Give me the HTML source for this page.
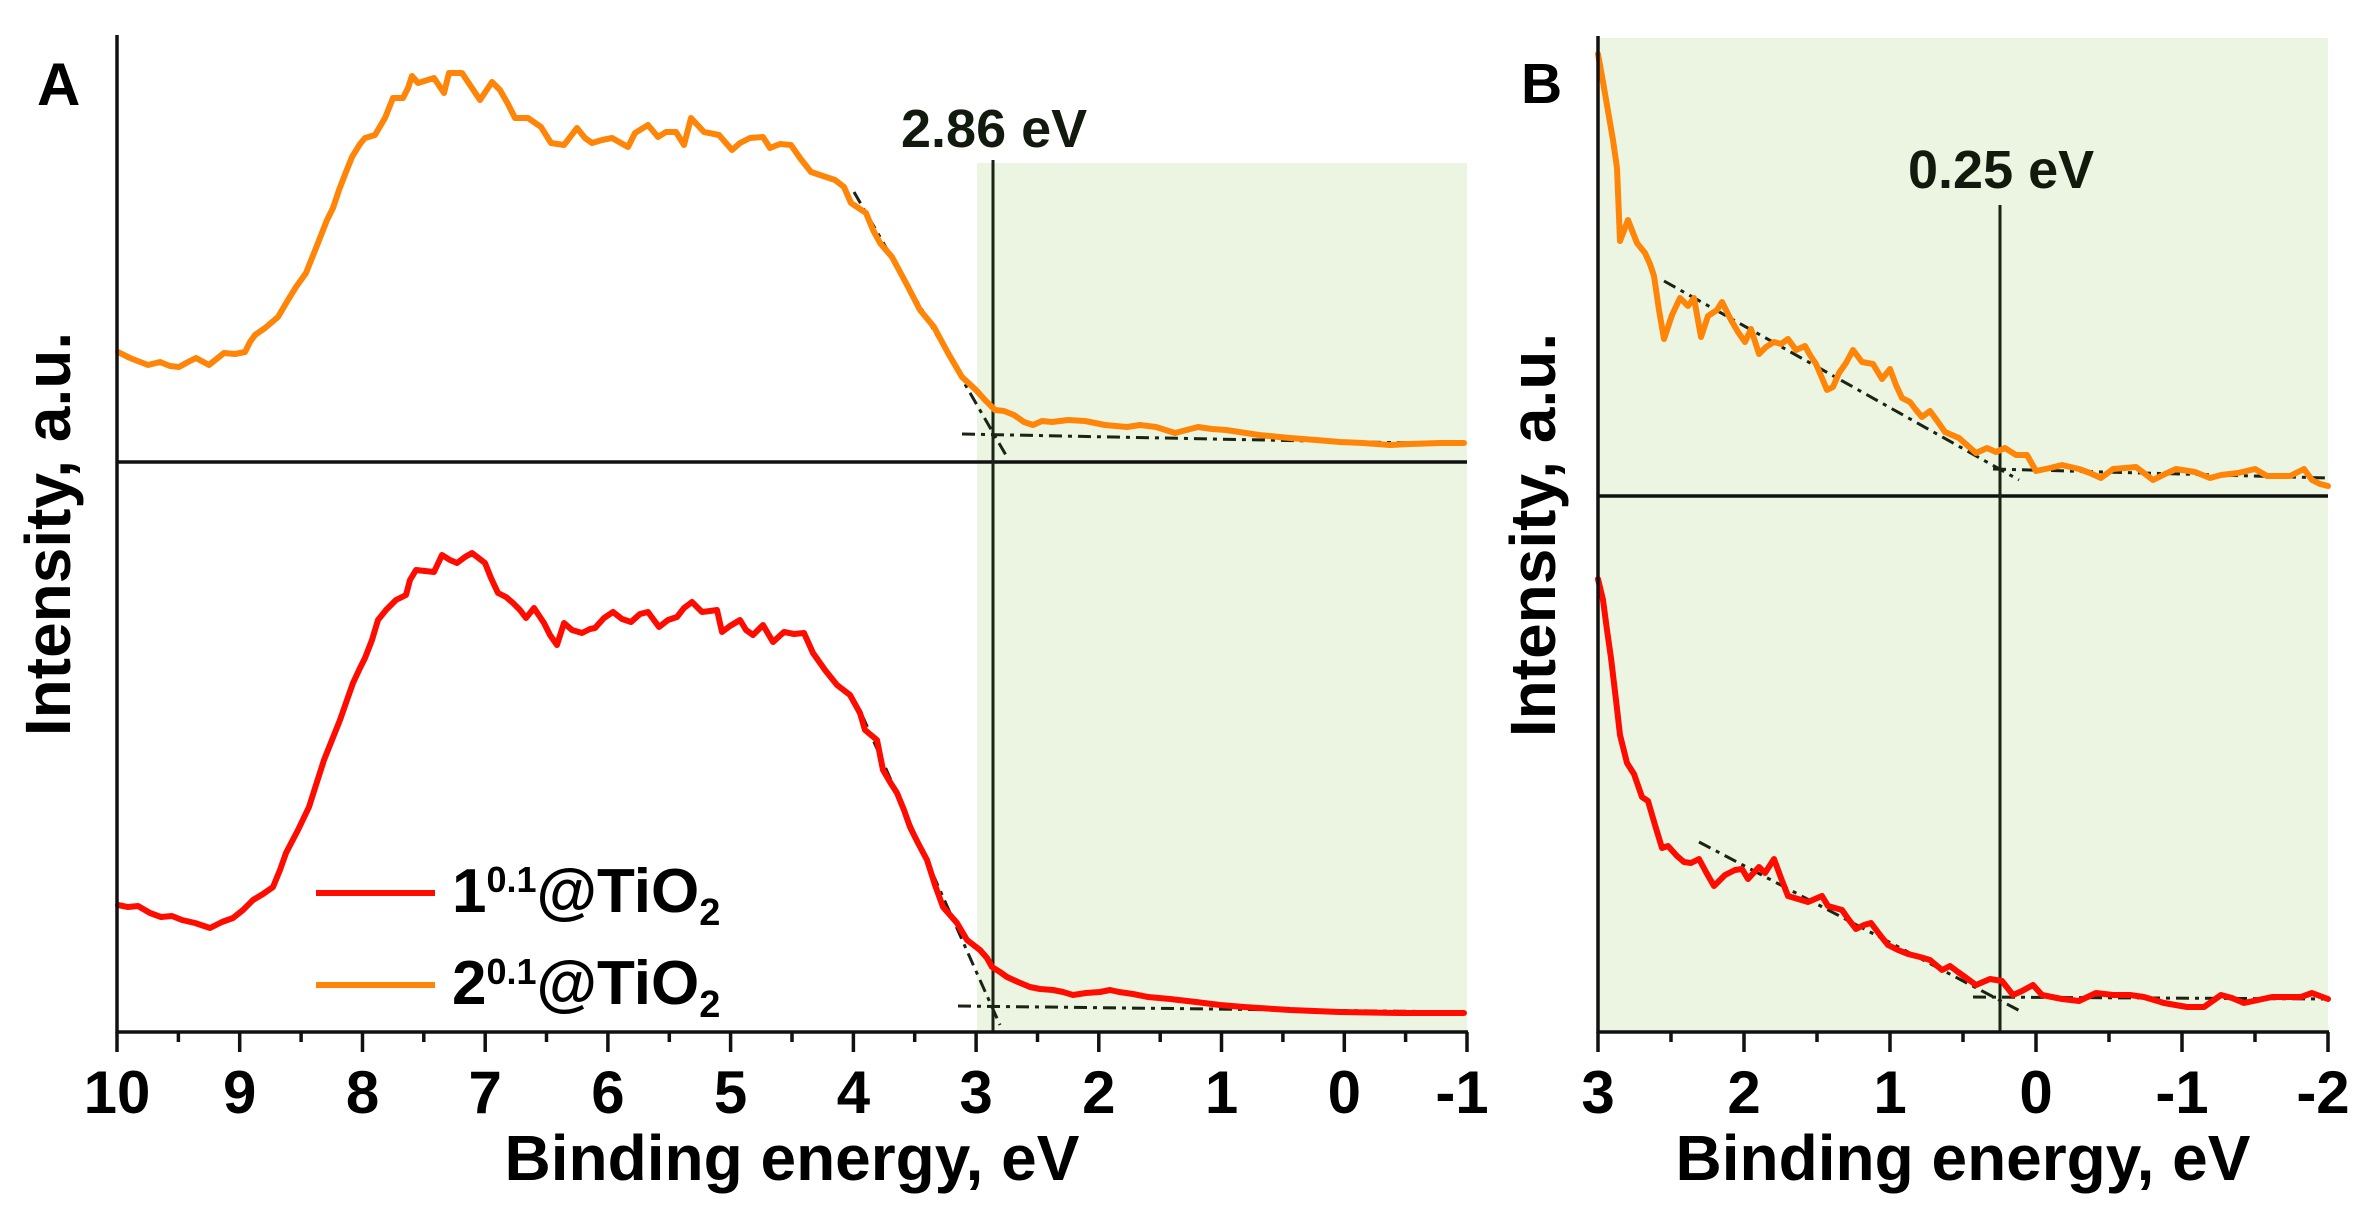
<!DOCTYPE html>
<html><head><meta charset="utf-8"><style>
html,body{margin:0;padding:0;background:#fff;}
svg{display:block;}
text{font-family:"Liberation Sans",Arial,sans-serif;}
</style></head><body>
<svg width="2374" height="1207" viewBox="0 0 2374 1207" xmlns="http://www.w3.org/2000/svg">
<rect x="0" y="0" width="2374" height="1207" fill="#fff"/>
<!-- shading -->
<rect x="977" y="163" width="490" height="869" fill="#ebf5e1"/>
<rect x="1598" y="38" width="730" height="994" fill="#ebf5e1"/>

<!-- Panel A divider and vertical -->
<line x1="117" y1="462" x2="1467" y2="462" stroke="#111" stroke-width="3.5"/>
<line x1="993" y1="160" x2="993" y2="1032" stroke="#1a2414" stroke-width="3"/>
<!-- Panel B divider and vertical -->
<line x1="1598" y1="496" x2="2328" y2="496" stroke="#111" stroke-width="3.5"/>
<line x1="2000" y1="205" x2="2000" y2="1032" stroke="#1a2414" stroke-width="3"/>

<!-- tangents -->
<g stroke="#1a2414" stroke-width="3" stroke-dasharray="13,6,4,6" fill="none">
<line x1="854" y1="192" x2="1007" y2="457"/>
<line x1="962" y1="434" x2="1464" y2="444"/>
<line x1="862" y1="715" x2="1000" y2="1025"/>
<line x1="958" y1="1006" x2="1464" y2="1012"/>
<line x1="1664" y1="281" x2="2019" y2="480"/>
<line x1="1993" y1="469" x2="2328" y2="478"/>
<line x1="1699" y1="842" x2="2022" y2="1012"/>
<line x1="1973" y1="997" x2="2328" y2="999"/>
</g>

<!-- curves -->
<g fill="none" stroke-width="6" stroke-linejoin="round" stroke-linecap="round">
<polyline stroke="#ff8508" points="118,352 130,358 148,365 160,362 170,366 179,367 188,362 196,358 209,365 224,353 235,354 245,352 250,342 255,335 265,328 278,317 288,300 296,287 306,273 316,248 327,220 333,208 339,190 346,172 352,157 360,144 365,138 375,135 385,118 393,98 403,98 408,88 412,76 418,83 434,78 444,93 449,73 462,73 470,85 480,100 492,82 500,90 508,104 515,118 528,118 541,127 551,143 564,145 577,128 585,138 592,143 602,140 612,138 628,147 635,133 648,125 658,137 666,132 676,132 684,145 691,118 704,132 719,135 732,150 740,143 750,138 763,137 770,148 780,144 791,145 800,158 811,172 823,176 835,180 844,187 851,203 866,213 873,230 880,243 892,257 906,283 920,310 934,327 948,353 962,377 976,390 985,400 995,410 1004,411 1014,415 1024,422 1033,425 1042,421 1052,422 1068,420 1085,421 1105,425 1127,427 1140,425 1156,427 1175,433 1198,427 1212,429 1226,430 1259,435 1290,438 1316,440 1340,442 1363,443 1390,445 1410,444 1440,443 1464,443"/>
<polyline stroke="#ff0c00" points="118,905 128,907 138,906 150,913 161,917 172,916 182,920 195,923 210,928 222,922 233,918 243,910 253,900 263,894 273,887 280,870 286,853 298,830 309,807 316,785 324,760 332,740 340,720 347,700 353,683 360,668 365,658 372,640 378,620 386,610 396,600 406,595 410,580 416,570 425,571 434,572 442,555 450,560 457,563 465,557 472,553 485,563 491,578 498,593 506,597 513,603 520,610 526,618 534,608 544,623 550,635 557,645 564,623 572,630 582,633 590,629 595,628 604,618 613,612 622,619 631,622 640,614 648,612 659,627 668,620 677,617 684,608 692,602 702,612 710,611 717,610 722,632 730,626 740,620 746,630 753,635 763,625 773,642 784,632 794,634 804,633 813,653 825,670 837,685 850,695 860,713 865,730 877,740 883,770 890,782 897,793 904,810 910,827 918,843 927,860 935,885 943,907 950,915 957,923 967,940 980,950 987,958 992,967 1000,972 1007,977 1018,982 1030,987 1040,989 1053,990 1063,992 1073,995 1086,993 1100,992 1110,990 1119,992 1133,994 1148,997 1170,999 1196,1002 1220,1005 1244,1007 1290,1010 1339,1012 1400,1013 1464,1013"/>
<polyline stroke="#ff8508" points="1598,54 1603,82 1608,111 1613,140 1617,168 1620,241 1628,220 1637,243 1645,253 1650,264 1654,276 1659,310 1664,339 1672,315 1680,298 1688,306 1694,298 1701,337 1708,316 1717,310 1722,302 1731,320 1738,332 1745,342 1751,329 1759,354 1766,347 1774,342 1781,344 1788,339 1796,350 1805,346 1810,355 1816,364 1822,378 1827,390 1833,387 1839,373 1846,363 1853,350 1862,362 1873,364 1882,379 1890,369 1896,385 1902,398 1910,402 1916,410 1922,417 1930,411 1938,422 1945,432 1952,435 1959,438 1968,446 1976,453 1987,448 1996,452 2005,448 2016,455 2027,455 2036,471 2050,468 2062,465 2079,469 2090,473 2101,478 2113,469 2125,468 2136,467 2153,480 2165,474 2176,469 2195,472 2210,478 2221,475 2238,473 2255,469 2267,476 2290,476 2304,469 2312,480 2320,484 2328,486"/>
<polyline stroke="#ff0c00" points="1598,579 1603,600 1607,630 1611,658 1616,700 1620,735 1627,763 1634,774 1642,797 1648,801 1655,825 1662,848 1668,846 1677,856 1684,862 1691,863 1699,859 1706,872 1714,886 1725,875 1735,870 1742,869 1748,879 1759,867 1765,873 1774,859 1781,878 1788,896 1798,899 1808,902 1822,896 1828,906 1842,910 1849,920 1856,929 1864,925 1871,923 1880,935 1888,945 1898,950 1908,954 1920,957 1930,960 1942,970 1950,966 1958,972 1965,977 1976,985 1990,979 2002,981 2013,995 2022,991 2033,985 2042,995 2052,997 2062,999 2079,1001 2096,993 2113,995 2130,995 2144,997 2164,1003 2187,1007 2204,1007 2221,995 2232,998 2244,1003 2258,1000 2272,997 2301,997 2312,993 2328,999"/>
</g>

<!-- axes -->
<g stroke="#111" stroke-width="3.5" fill="none">
<line x1="117" y1="35" x2="117" y2="1033"/>
<line x1="115.5" y1="1032" x2="1468" y2="1032"/>
<line x1="1598" y1="36" x2="1598" y2="1033"/>
<line x1="1596.5" y1="1032" x2="2329" y2="1032"/>
<path d="M117,1032V1052 M239.7,1032V1052 M362.5,1032V1052 M485.2,1032V1052 M607.9,1032V1052 M730.6,1032V1052 M853.4,1032V1052 M976.1,1032V1052 M1098.8,1032V1052 M1221.5,1032V1052 M1344.3,1032V1052 M1467,1032V1052
M178.4,1032V1042 M301.1,1032V1042 M423.8,1032V1042 M546.5,1032V1042 M669.3,1032V1042 M792,1032V1042 M914.7,1032V1042 M1037.5,1032V1042 M1160.2,1032V1042 M1282.9,1032V1042 M1405.6,1032V1042
M1598,1032V1052 M1744,1032V1052 M1890,1032V1052 M2036,1032V1052 M2182,1032V1052 M2328,1032V1052
M1671,1032V1042 M1817,1032V1042 M1963,1032V1042 M2109,1032V1042 M2255,1032V1042"/>
</g>

<!-- tick labels -->
<g font-size="60" font-weight="bold" fill="#000" text-anchor="middle">
<text x="117" y="1113">10</text>
<text x="239.7" y="1113">9</text>
<text x="362.5" y="1113">8</text>
<text x="485.2" y="1113">7</text>
<text x="607.9" y="1113">6</text>
<text x="730.6" y="1113">5</text>
<text x="853.4" y="1113">4</text>
<text x="976.1" y="1113">3</text>
<text x="1098.8" y="1113">2</text>
<text x="1221.5" y="1113">1</text>
<text x="1344.3" y="1113">0</text>
<text x="1462" y="1113">-1</text>
<text x="1598" y="1113">3</text>
<text x="1744" y="1113">2</text>
<text x="1890" y="1113">1</text>
<text x="2036" y="1113">0</text>
<text x="2182" y="1113">-1</text>
<text x="2323" y="1113">-2</text>
</g>

<!-- axis titles -->
<g font-size="64" font-weight="bold" fill="#000" text-anchor="middle">
<text x="792" y="1180">Binding energy, eV</text>
<text x="1963" y="1180">Binding energy, eV</text>
<text transform="translate(70,534) rotate(-90)">Intensity, a.u.</text>
<text transform="translate(1555,535) rotate(-90)">Intensity, a.u.</text>
</g>

<!-- panel letters -->
<text x="37" y="105" font-size="60" font-weight="bold" fill="#000">A</text>
<text x="1521" y="103" font-size="57" font-weight="bold" fill="#000">B</text>

<!-- annotations -->
<text x="901" y="147" font-size="54" font-weight="bold" fill="#111a0d">2.86 eV</text>
<text x="1908" y="188" font-size="54" font-weight="bold" fill="#111a0d">0.25 eV</text>

<!-- legend -->
<line x1="316" y1="893" x2="435" y2="893" stroke="#ff0c00" stroke-width="6"/>
<line x1="316" y1="985" x2="435" y2="985" stroke="#ff8508" stroke-width="6"/>
<text x="452" y="912" font-size="62" font-weight="bold" fill="#000">1<tspan font-size="36" dy="-20">0.1</tspan><tspan font-size="62" dy="20">@TiO</tspan><tspan font-size="38" dy="13">2</tspan></text>
<text x="452" y="1004" font-size="62" font-weight="bold" fill="#000">2<tspan font-size="36" dy="-20">0.1</tspan><tspan font-size="62" dy="20">@TiO</tspan><tspan font-size="38" dy="13">2</tspan></text>
</svg>
</body></html>
